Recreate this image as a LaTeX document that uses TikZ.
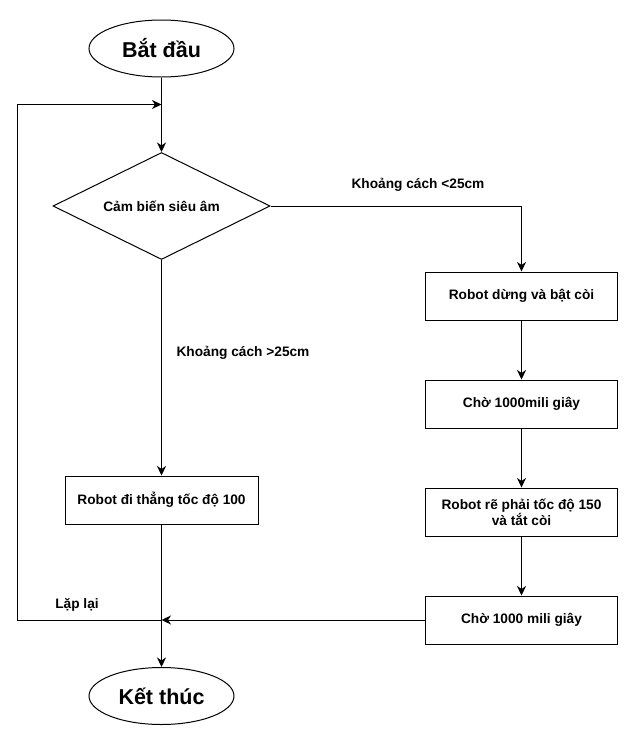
\documentclass[tikz,border=0pt]{standalone}
\usepackage{fontspec}
\setmainfont{Liberation Sans}
\usetikzlibrary{shapes.geometric,arrows.meta,calc}
\tikzset{
  box/.style={draw, rectangle, line width=1pt, minimum width=192pt, minimum height=48pt, inner sep=0pt, font=\bfseries\fontsize{13.7}{16}\selectfont, align=center},
  term/.style={draw, ellipse, line width=1pt, minimum width=145pt, minimum height=57pt, inner sep=0pt, font=\bfseries\fontsize{21.5}{25}\selectfont},
  dec/.style={draw, diamond, line width=1pt, minimum width=217pt, minimum height=107pt, inner sep=0pt},
  lbl/.style={font=\bfseries\fontsize{13.7}{16}\selectfont, inner sep=0pt},
  arr/.style={line width=1pt, -{Stealth[length=9.5pt,width=9pt,inset=3pt]}},
  ln/.style={line width=1pt}
}
\begin{document}
\begin{tikzpicture}[x=1pt,y=-1pt]
\fill[white] (0,0) rectangle (637,734);
\useasboundingbox (0,0) rectangle (637,734);
\node[term] (start) at (161.5,48.5) {Bắt đầu};
\node[dec, label={[lbl]center:Cảm biến siêu âm}] (d) at (161.5,206) {};
\node[box] (b1) at (521.5,296) {Robot dừng và bật còi};
\node[box] (b2) at (521.5,404) {Chờ 1000mili giây};
\node[box] (b3) at (521.5,512) {Robot rẽ phải tốc độ 150\\và tắt còi};
\node[box] (b4) at (521.5,620) {Chờ 1000 mili giây};
\node[box, minimum width=193pt] (bl) at (161.5,500) {Robot đi thẳng tốc độ 100};
\node[term] (end) at (161.5,696) {Kết thúc};
\node[lbl] (l1) at (418,185) {Khoảng cách <25cm};
\node[lbl] (l2) at (243,353) {Khoảng cách >25cm};
\node[lbl] (l3) at (77,605) {Lặp lại};
\coordinate (j) at (bl.south |- b4.west);
\coordinate (lp1) at (17,620);
\coordinate (lp2) at (17,104.5);
\coordinate (lp3) at (161.5,104.5);
\draw[arr] (start.south) -- (d.north);
\draw[arr] (d.east) -| (b1.north);
\draw[arr] (b1.south) -- (b2.north);
\draw[arr] (b2.south) -- (b3.north);
\draw[arr] (b3.south) -- (b4.north);
\draw[arr] (d.south) -- (bl.north);
\draw[arr] (bl.south) -- (end.north);
\draw[arr] (b4.west) -- (j);
\draw[arr] (j) -- (lp1) -- (lp2) -- (lp3);
\end{tikzpicture}
\end{document}
